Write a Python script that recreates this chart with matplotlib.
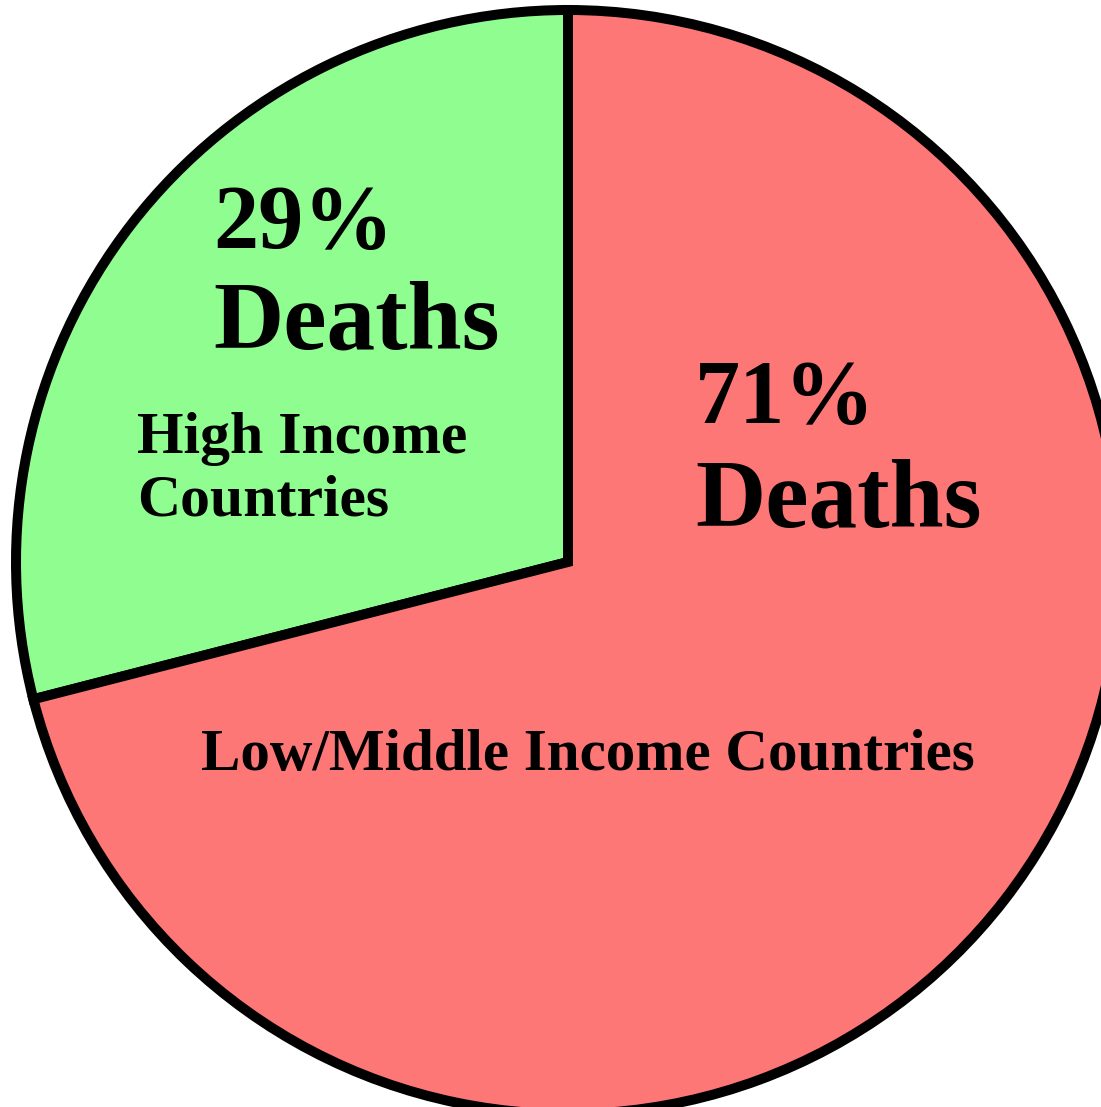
import matplotlib.pyplot as plt

shares = [29, 71]
groups = ['High Income\nCountries', 'Low/Middle Income Countries']
colors = ['#90fd90', '#fe7777']

W, H = 1101, 1107
CX, CY, R = 568, 562, 552  # pie centre / radius in pixels


def to_data(px, py):
    return (px - CX) / R, (CY - py) / R


fig = plt.figure(figsize=(W / 100, H / 100), dpi=100)
ax = fig.add_axes([0, 0, 1, 1])
ax.pie(shares, colors=colors, startangle=90, counterclock=True, radius=1,
       wedgeprops=dict(edgecolor='black', linewidth=7.2, joinstyle='miter'))
ax.set_xlim(-CX / R, (W - CX) / R)
ax.set_ylim(-(H - CY) / R, CY / R)
ax.set_aspect('auto')
ax.axis('off')

font = dict(family='Liberation Serif', weight='bold', color='black',
            ha='left', va='baseline')

# High income slice
ax.text(*to_data(213, 248), f'{shares[0]}%', fontsize=65, **font)
ax.text(*to_data(213, 348), 'Deaths', fontsize=70, **font)
hi = groups[0].split('\n')
ax.text(*to_data(137, 453), hi[0], fontsize=43, **font)
ax.text(*to_data(137, 515), hi[1], fontsize=43, **font)

# Low/middle income slice
ax.text(*to_data(695, 423), f'{shares[1]}%', fontsize=65, **font)
ax.text(*to_data(695, 527), 'Deaths', fontsize=70, **font)
ax.text(*to_data(201, 770), groups[1], fontsize=42.5, **font)

fig.savefig('out.png', dpi=100, facecolor='white')
